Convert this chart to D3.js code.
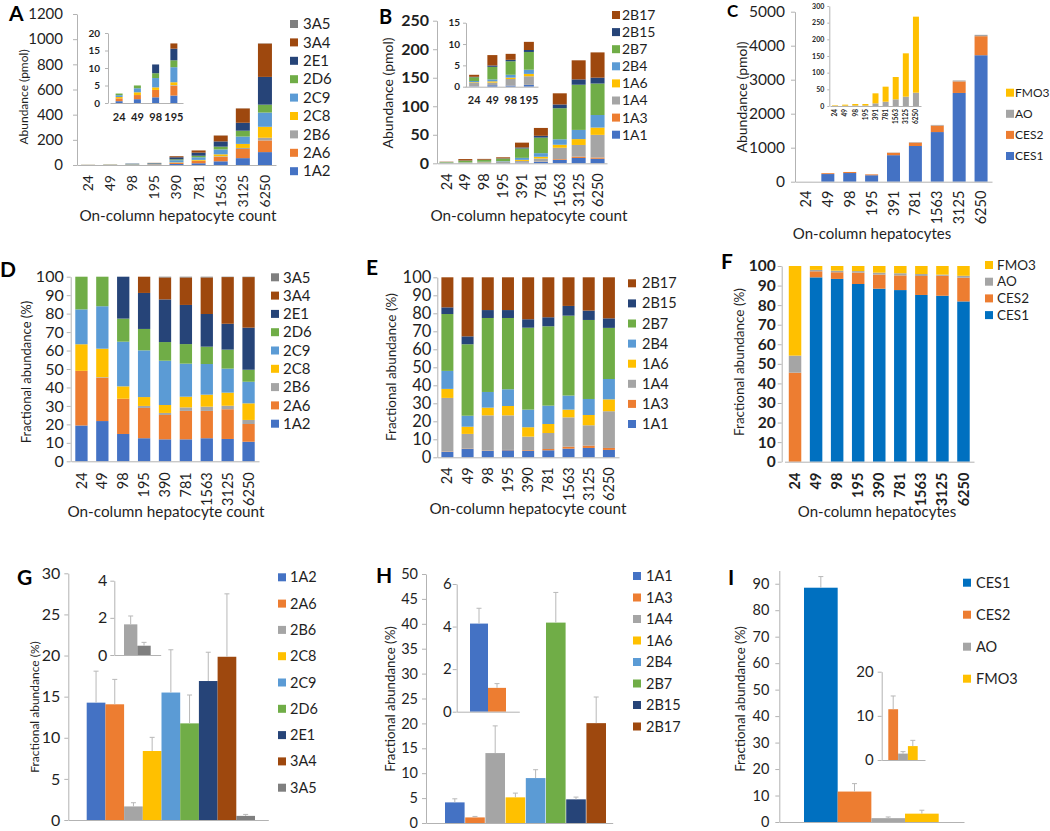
<!DOCTYPE html>
<html><head><meta charset="utf-8">
<script src="https://cdn.jsdelivr.net/npm/d3@7/dist/d3.min.js"></script>
<style>body{margin:0;background:#fff}</style>
</head><body><svg id="c" width="1050" height="831"></svg>
<script>
// ---------------- DATA ----------------
const countsA = ["24","49","98","195","390","781","1563","3125","6250"];
const countsB = ["24","49","98","195","391","781","1563","3125","6250"];
const countsC = ["24","49","98","195","391","781","1563","3125","6250"];
const countsD = ["24","49","98","195","390","781","1563","3125","6250"];
const countsE = ["24","49","98","195","390","781","1563","3125","6250"];
const countsF = ["24","49","98","195","390","781","1563","3125","6250"];

const cypKeys = ["1A2","2A6","2B6","2C8","2C9","2D6","2E1","3A4","3A5"];
const ugtKeys = ["1A1","1A3","1A4","1A6","2B4","2B7","2B15","2B17"];
const nonCypKeys = ["CES1","CES2","AO","FMO3"];

// Panel A: abundance (pmol) of CYPs
const A_1A2 = [0.52,1.09,1.63,2.13,8.3,13.8,29.4,54.5,102.5];
const A_2A6 = [0.80,1.18,2.10,2.79,9.2,17.9,34.8,72.5,92.8];
const A_2B6 = [0,0.02,0,0.19,0.8,2.2,5.4,8.6,21.3];
const A_2C8 = [0.39,0.77,0.74,0.82,3.0,6.7,15.3,32.0,87.0];
const A_2C9 = [0.51,1.15,2.66,4.30,16.8,20.8,39.0,58.5,113.1];
const A_2D6 = [0.48,0.80,1.38,1.97,7.1,12.3,22.1,46.4,62.9];
const A_2E1 = [0,0,2.50,3.32,16.2,24.6,41.6,63.0,220.5];
const A_3A4 = [0,0,0,1.50,8.3,17.3,46.5,113.9,265];
const A_3A5 = [0,0,0,0,0.3,0.5,0.9,0.9,1.9];

// Panel B: abundance (pmol) of UGTs
const B_1A1 = [0.08,0.34,0.27,0.41,1.27,2.42,5.9,9.4,8.0];
const B_1A3 = [0.01,0.01,0.02,0.02,0.14,0.43,1.35,2.35,2.14];
const B_1A4 = [0.83,0.61,1.51,2.02,2.75,5.52,20.0,20.4,39.7];
const B_1A6 = [0.14,0.30,0.33,0.55,1.88,3.1,5.28,10.3,12.8];
const B_2B4 = [0.28,0.45,0.67,0.98,3.55,6.32,9.57,16.1,22.0];
const B_2B7 = [0.88,2.94,3.16,4.16,16.5,27.3,54.5,79.2,55.2];
const B_2B15 = [0.10,0.33,0.34,0.46,1.70,3.1,6.6,9.4,10.3];
const B_2B17 = [0.47,2.43,1.40,1.91,8.43,13.8,19.5,33.4,44.3];

// Panel C: abundance (pmol) of non-CYP enzymes
const C_CES1 = [0,225,255,190,780,1050,1460,2610,3720];
const C_CES2 = [0,25,30,25,70,100,190,340,560];
const C_AO = [0.5,1,1.5,1.5,8,13,20,28,40];
const C_FMO3 = [1.5,3,4.5,4.5,30,45,67,130,228];

// Panel D: fractional abundance (%) of CYPs
const D_1A2 = [19.4,21.8,14.8,12.5,11.9,11.9,12.5,12.1,10.6];
const D_2A6 = [29.6,23.5,19.1,16.4,13.2,15.4,14.8,16.1,9.6];
const D_2B6 = [0,0.3,0,1.1,1.1,1.9,2.3,1.9,2.2];
const D_2C8 = [14.4,15.4,6.7,4.8,4.3,5.8,6.5,7.1,9.0];
const D_2C9 = [18.9,23.0,24.2,25.3,24.0,17.9,16.6,13.0,11.7];
const D_2D6 = [17.7,16.0,12.5,11.6,10.1,10.6,9.4,10.3,6.5];
const D_2E1 = [0,0,22.7,19.5,23.1,21.2,17.7,14.0,22.8];
const D_3A4 = [0,0,0,8.8,11.9,14.9,19.8,25.3,27.4];
const D_3A5 = [0,0,0,0,0.4,0.4,0.4,0.2,0.2];

// Panel E: fractional abundance (%) of UGTs
const E_1A1 = [3,4.6,3.5,3.9,3.5,3.9,4.8,5.2,4.1];
const E_1A3 = [0.2,0.2,0.2,0.2,0.4,0.7,1.1,1.3,1.1];
const E_1A4 = [29.8,8.2,19.6,19.2,7.6,8.9,16.3,11.3,20.4];
const E_1A6 = [5,4,4.3,5.2,5.2,5,4.3,5.7,6.6];
const E_2B4 = [10,6.1,8.7,9.3,9.8,10.2,7.8,8.9,11.3];
const E_2B7 = [31.6,39.7,41.1,39.6,45.5,44.1,44.4,43.9,28.4];
const E_2B15 = [3.7,4.4,4.4,4.4,4.7,5,5.4,5.2,5.3];
const E_2B17 = [16.7,32.8,18.2,18.2,23.3,22.2,15.9,18.5,22.8];

// Panel F: fractional abundance (%) of non-CYP enzymes
const F_CES1 = [0,94.2,93.4,90.8,88.4,87.7,85.2,84.8,81.9];
const F_CES2 = [45.5,3.1,3.4,5.8,7.2,7.5,9.7,10.2,12.1];
const F_AO = [8.7,0.7,0.8,0.8,1.0,1.1,1.0,0.6,1.0];
const F_FMO3 = [45.8,2.0,2.4,2.6,3.4,3.7,4.1,4.4,5.0];

// Panel G: mean fractional abundance (%) and SD, CYPs
const G_mean = [14.27,14.07,1.65,8.39,15.5,11.75,16.9,19.85,0.5];
const G_sd = [3.83,3.03,0.45,1.66,5.2,3.45,3.5,7.65,0.18];
// Panel H: UGTs
const H_mean = [4.14,1.12,14.04,5.15,9.02,40.24,4.75,20.05];
const H_sd = [0.72,0.2,5.46,0.85,1.68,6.06,0.45,5.25];
// Panel I: non-CYP
const I_mean = [88.5,11.5,1.45,3.15];
const I_sd = [4.2,3.0,0.45,1.3];

// tick labels
const ticksA = [0,200,400,600,800,1000,1200];
const ticksAin = [0,5,10,15,20];
const ticksB = [0,50,100,150,200,250];
const ticksBin = [0,5,10,15];
const ticksC = [0,1000,2000,3000,4000,5000];
const ticksCin = [0,50,100,150,200,250,300];
const ticksPct = [0,10,20,30,40,50,60,70,80,90,100];
const ticksG = [0,5,10,15,20,25,30];
const ticksGin = [0,2,4];
const ticksH = [0,5,10,15,20,25,30,35,40,45,50];
const ticksHin = [0,2,4,6];
const ticksI = [0,10,20,30,40,50,60,70,80,90];
const ticksIin = [0,10,20];

// ---------------- STYLE ----------------
const FONT = "Lato, 'Open Sans', sans-serif";
const AXC = "#b3b3b3", TXT = "#1f1f1f", ERR = "#b8b8b8";
const col = {
  "1A2":"#4472C4","2A6":"#ED7D31","2B6":"#A5A5A5","2C8":"#FFC000","2C9":"#5B9BD5",
  "2D6":"#70AD47","2E1":"#264478","3A4":"#9E480E","3A5":"#7F7F7F",
  "1A1":"#4472C4","1A3":"#ED7D31","1A4":"#A5A5A5","1A6":"#FFC000","2B4":"#5B9BD5",
  "2B7":"#70AD47","2B15":"#264478","2B17":"#9E480E",
  "CES2":"#ED7D31","AO":"#A5A5A5","FMO3":"#FFC000"
};
const colC = Object.assign({}, col, {"CES1":"#4472C4"});
const colF = Object.assign({}, col, {"CES1":"#0070C0"});

const svg = d3.select("#c").attr("font-family", FONT);

const dataA = {"1A2":A_1A2,"2A6":A_2A6,"2B6":A_2B6,"2C8":A_2C8,"2C9":A_2C9,"2D6":A_2D6,"2E1":A_2E1,"3A4":A_3A4,"3A5":A_3A5};
const dataB = {"1A1":B_1A1,"1A3":B_1A3,"1A4":B_1A4,"1A6":B_1A6,"2B4":B_2B4,"2B7":B_2B7,"2B15":B_2B15,"2B17":B_2B17};
const dataC = {"CES1":C_CES1,"CES2":C_CES2,"AO":C_AO,"FMO3":C_FMO3};
const dataD = {"1A2":D_1A2,"2A6":D_2A6,"2B6":D_2B6,"2C8":D_2C8,"2C9":D_2C9,"2D6":D_2D6,"2E1":D_2E1,"3A4":D_3A4,"3A5":D_3A5};
const dataE = {"1A1":E_1A1,"1A3":E_1A3,"1A4":E_1A4,"1A6":E_1A6,"2B4":E_2B4,"2B7":E_2B7,"2B15":E_2B15,"2B17":E_2B17};
const dataF = {"CES1":F_CES1,"CES2":F_CES2,"AO":F_AO,"FMO3":F_FMO3};

function yAxis(g, y, x, ticks, o){
  const ax = d3.axisLeft(y).tickValues(ticks).tickFormat(d3.format("d"))
    .tickSize(o.tick ?? 4).tickSizeOuter(0).tickPadding(o.pad ?? 6);
  const a = g.append("g").attr("transform", `translate(${x},0)`).call(ax);
  a.attr("font-family", FONT).attr("font-size", o.font).attr("font-weight", o.bold ? "bold" : "normal");
  a.select(".domain").attr("stroke", AXC);
  a.selectAll(".tick line").attr("stroke", AXC);
  a.selectAll(".tick text").attr("fill", TXT);
  return a;
}
function xAxis(g, x, yPos, o){
  const ax = d3.axisBottom(x).tickSize(0).tickSizeOuter(0);
  if (o.noLabels) ax.tickValues([]);
  const a = g.append("g").attr("transform", `translate(0,${yPos})`).call(ax);
  a.attr("font-family", FONT).attr("font-size", o.font || 12).attr("font-weight", o.bold ? "bold" : "normal");
  a.select(".domain").attr("stroke", AXC);
  const t = a.selectAll(".tick text").attr("fill", TXT);
  if (o.rotate){
    t.attr("transform","rotate(-90)").attr("text-anchor","end").attr("x", -o.gap).attr("y", 0).attr("dy","0.35em");
  } else if (!o.noLabels) {
    t.attr("y", o.gap).attr("dy","0.71em");
  }
  return a;
}
function title(g, text, x, y, size, rot, bold){
  const t = g.append("text").text(text).attr("font-size", size).attr("fill", TXT)
    .attr("text-anchor","middle").attr("font-weight", bold ? "bold" : "normal");
  if (rot) t.attr("transform", `translate(${x},${y}) rotate(-90)`).attr("dy","0.35em");
  else t.attr("x", x).attr("y", y);
}
function panelLabel(text, x, y, size){
  svg.append("text").text(text).attr("x", x).attr("y", y).attr("font-size", size || 21)
    .attr("font-weight","bold").attr("fill","#000");
}
function legend(g, keys, colors, o){
  const it = g.append("g").selectAll("g").data(keys).join("g")
    .attr("transform", (d,i)=>`translate(0,${o.y0 + i*o.dy})`);
  it.append("rect").attr("x", o.sx).attr("y", -4).attr("width", 8).attr("height", 8).attr("fill", d=>colors[d]);
  it.append("text").attr("x", o.tx).attr("dy","0.35em").attr("font-size", o.font).attr("fill", TXT).text(d=>d);
}
function stacked(g, cats, keys, data, colors, y, xr, barW){
  const rows = cats.map((c,i)=>{ const r={cat:c}; keys.forEach(k=>r[k]=data[k][i]); return r; });
  const st = d3.stack().keys(keys)(rows);
  const step = (xr[1]-xr[0])/cats.length, pad = 1 - barW/step;
  const x = d3.scaleBand().domain(cats).range(xr).paddingInner(pad).paddingOuter(pad/2);
  g.append("g").selectAll("g").data(st).join("g").attr("fill", d=>colors[d.key])
    .selectAll("rect").data(d=>d).join("rect")
    .attr("x", d=>x(d.data.cat)).attr("width", x.bandwidth())
    .attr("y", d=>y(d[1])).attr("height", d=>Math.max(0, y(d[0])-y(d[1])));
  return x;
}
function bars(g, keys, means, sds, colors, y, xr, pin){
  const x = d3.scaleBand().domain(keys).range(xr).paddingInner(pin||0);
  const d = keys.map((k,i)=>({k, m:means[i], s:sds[i]}));
  g.append("g").selectAll("rect").data(d).join("rect")
    .attr("x", e=>x(e.k)).attr("width", x.bandwidth())
    .attr("y", e=>y(e.m)).attr("height", e=>y(0)-y(e.m)).attr("fill", e=>colors[e.k]);
  const eb = g.append("g").attr("stroke", ERR).attr("stroke-width", 1);
  eb.selectAll("line.v").data(d).join("line").attr("class","v")
    .attr("x1", e=>x(e.k)+x.bandwidth()/2).attr("x2", e=>x(e.k)+x.bandwidth()/2)
    .attr("y1", e=>y(e.m)).attr("y2", e=>y(e.m+e.s));
  eb.selectAll("line.c").data(d).join("line").attr("class","c")
    .attr("x1", e=>x(e.k)+x.bandwidth()/2-2.5).attr("x2", e=>x(e.k)+x.bandwidth()/2+2.5)
    .attr("y1", e=>y(e.m+e.s)).attr("y2", e=>y(e.m+e.s));
  return x;
}
const pick = (keys, sub, arr) => sub.map(k => arr[keys.indexOf(k)]);

// ---------------- PANEL A ----------------
{
  const g = svg.append("g");
  const y = d3.scaleLinear().domain([0,1200]).range([165,14]);
  const x = stacked(g, countsA, cypKeys, dataA, col, y, [77,276], 14);
  yAxis(g, y, 77, ticksA, {font:15, pad:10});
  xAxis(g, x, 165, {rotate:true, gap:10, font:14});
  title(g, "Abundance (pmol)", 24, 97, 12, true);
  title(g, "On-column hepatocyte count", 178, 221, 15.3);
  legend(g, cypKeys.slice().reverse(), col, {sx:290, tx:303, y0:24, dy:18.4, font:15});
  const yi = d3.scaleLinear().domain([0,20]).range([103,33]);
  const xi = stacked(g, countsA.slice(0,4), cypKeys, dataA, col, yi, [110,183], 7);
  yAxis(g, yi, 108, ticksAin, {font:10, bold:true, pad:5, tick:3});
  xAxis(g, xi, 103, {gap:10, font:11, bold:true});
  panelLabel("A", 9, 21, 21);
}
// ---------------- PANEL B ----------------
{
  const g = svg.append("g");
  const y = d3.scaleLinear().domain([0,250]).range([163.3,20.7]);
  const x = stacked(g, countsB, ugtKeys, dataB, col, y, [437,607], 14);
  yAxis(g, y, 437, ticksB, {font:16, bold:true, pad:4});
  xAxis(g, x, 163.3, {rotate:true, gap:10, font:14.5});
  title(g, "Abundance (pmol)", 388, 93, 14, true);
  title(g, "On-column hepatocyte count", 529, 221, 15.3);
  legend(g, ugtKeys.slice().reverse(), col, {sx:612, tx:622, y0:15, dy:17.1, font:14});
  const yi = d3.scaleLinear().domain([0,15]).range([86.7,22.7]);
  const xi = stacked(g, countsB.slice(0,4), ugtKeys, dataB, col, yi, [465,538], 10);
  yAxis(g, yi, 466, ticksBin, {font:10, bold:true, pad:3, tick:3});
  xAxis(g, xi, 86.7, {gap:10, font:11, bold:true});
  panelLabel("B", 379, 24, 20);
}
// ---------------- PANEL C ----------------
{
  const g = svg.append("g");
  const y = d3.scaleLinear().domain([0,5000]).range([181.7,11.7]);
  const x = stacked(g, countsC, ["CES1","CES2","AO"], dataC, colC, y, [795,992], 13);
  yAxis(g, y, 795, ticksC, {font:15.5, pad:6});
  xAxis(g, x, 181.7, {rotate:true, gap:9, font:14.5});
  title(g, "Abundance (pmol)", 742, 97, 14, true);
  title(g, "On-column hepatocytes", 872, 239, 15);
  legend(g, ["FMO3","AO","CES2","CES1"], colC, {sx:1006, tx:1015, y0:92.7, dy:21.1, font:12});
  const yi = d3.scaleLinear().domain([0,300]).range([106,6]);
  const xi = stacked(g, countsC, ["AO","FMO3"], dataC, colC, yi, [830,921], 6);
  yAxis(g, yi, 829.3, ticksCin, {font:7, bold:true, pad:3, tick:2});
  xAxis(g, xi, 106, {rotate:true, gap:3, font:6.5, bold:true});
  panelLabel("C", 727, 17, 17);
}
// ---------------- PANEL D ----------------
{
  const g = svg.append("g");
  const y = d3.scaleLinear().domain([0,100]).range([461.3,276.7]);
  const x = stacked(g, countsD, cypKeys, dataD, col, y, [71,259], 12.3);
  yAxis(g, y, 70.7, ticksPct, {font:16, pad:3});
  xAxis(g, x, 461.3, {rotate:true, gap:11, font:14.5});
  title(g, "Fractional abundance (%)", 26, 372, 13, true);
  title(g, "On-column hepatocyte count", 166, 517, 15.3);
  legend(g, cypKeys.slice().reverse(), col, {sx:271, tx:283, y0:277.3, dy:18.3, font:15});
  panelLabel("D", 0, 277, 21);
}
// ---------------- PANEL E ----------------
{
  const g = svg.append("g");
  const y = d3.scaleLinear().domain([0,100]).range([457.3,277.3]);
  const x = stacked(g, countsE, ugtKeys, dataE, col, y, [437.3,619], 12);
  yAxis(g, y, 437.3, ticksPct, {font:16.5, pad:2});
  xAxis(g, x, 457.3, {rotate:true, gap:10, font:14.5});
  title(g, "Fractional abundance (%)", 391, 367, 13.5, true);
  title(g, "On-column hepatocyte count", 528, 514, 15.3);
  legend(g, ugtKeys.slice().reverse(), col, {sx:628, tx:642, y0:283.3, dy:20.1, font:14.5});
  panelLabel("E", 366, 275, 21);
}
// ---------------- PANEL F ----------------
{
  const g = svg.append("g");
  const y = d3.scaleLinear().domain([0,100]).range([461.7,266]);
  const x = stacked(g, countsF, nonCypKeys, dataF, colF, y, [784.5,974], 12.5);
  yAxis(g, y, 781.7, ticksPct, {font:15.5, bold:true, pad:2});
  xAxis(g, x, 461.7, {rotate:true, gap:11, font:14.5, bold:true});
  title(g, "Fractional abundance (%)", 739, 362, 13.5, true);
  title(g, "On-column hepatocytes", 877, 517, 15);
  legend(g, ["FMO3","AO","CES2","CES1"], colF, {sx:985, tx:997, y0:265, dy:16.7, font:13.5});
  panelLabel("F", 721, 269, 21);
}
// ---------------- PANEL G ----------------
{
  const g = svg.append("g");
  const y = d3.scaleLinear().domain([0,30]).range([820,573.3]);
  bars(g, cypKeys, G_mean, G_sd, col, y, [86.7,255]);
  yAxis(g, y, 68.3, ticksG, {font:16, pad:4});
  xAxis(g, d3.scaleBand().domain(["all"]).range([68.3,268.3]), 820, {noLabels:true});
  title(g, "Fractional abundance (%)", 35, 707, 12, true);
  legend(g, cypKeys, col, {sx:278, tx:290, y0:577.3, dy:26.3, font:14.5});
  const sub = ["2B6","3A5"];
  const yi = d3.scaleLinear().domain([0,4]).range([655,580.7]);
  bars(g, sub, pick(cypKeys, sub, G_mean), pick(cypKeys, sub, G_sd), col, yi, [124,150.7]);
  yAxis(g, yi, 114.3, ticksGin, {font:16, pad:3});
  xAxis(g, d3.scaleBand().domain(["all"]).range([114.3,160.7]), 655, {noLabels:true});
  panelLabel("G", 17, 585, 21);
}
// ---------------- PANEL H ----------------
{
  const g = svg.append("g");
  const y = d3.scaleLinear().domain([0,50]).range([823,574]);
  bars(g, ugtKeys, H_mean, H_sd, col, y, [445,606], 0.03);
  yAxis(g, y, 426, ticksH, {font:14.5, pad:4});
  xAxis(g, d3.scaleBand().domain(["all"]).range([426,612.7]), 823, {noLabels:true});
  title(g, "Fractional abundance (%)", 390, 699, 13.3, true);
  legend(g, ugtKeys, col, {sx:633, tx:646, y0:576, dy:21.5, font:14.5});
  const sub = ["1A1","1A3"];
  const yi = d3.scaleLinear().domain([0,6]).range([711.7,584]);
  bars(g, sub, pick(ugtKeys, sub, H_mean), pick(ugtKeys, sub, H_sd), col, yi, [470,506]);
  yAxis(g, yi, 456.7, ticksHin, {font:15, pad:1});
  xAxis(g, d3.scaleBand().domain(["all"]).range([456.7,519.3]), 711.7, {noLabels:true});
  panelLabel("H", 376, 583, 21);
}
// ---------------- PANEL I ----------------
{
  const g = svg.append("g");
  const y = d3.scaleLinear().domain([0,95]).range([822,570.5]);
  bars(g, nonCypKeys, I_mean, I_sd, colF, y, [804,938.7]);
  yAxis(g, y, 779.3, ticksI, {font:14.5, pad:6});
  xAxis(g, d3.scaleBand().domain(["all"]).range([779.3,964]), 822, {noLabels:true});
  title(g, "Fractional abundance (%)", 740, 699, 13.3, true);
  legend(g, nonCypKeys, colF, {sx:963, tx:976, y0:582.7, dy:32, font:14.5});
  const sub = ["CES2","AO","FMO3"];
  const yi = d3.scaleLinear().domain([0,20]).range([760,671.7]);
  bars(g, sub, pick(nonCypKeys, sub, I_mean), pick(nonCypKeys, sub, I_sd), colF, yi, [888.3,917.7]);
  yAxis(g, yi, 881.7, ticksIin, {font:15, pad:4});
  xAxis(g, d3.scaleBand().domain(["all"]).range([881.7,925]), 760, {noLabels:true});
  panelLabel("I", 728, 585, 21);
}
</script></body></html>
